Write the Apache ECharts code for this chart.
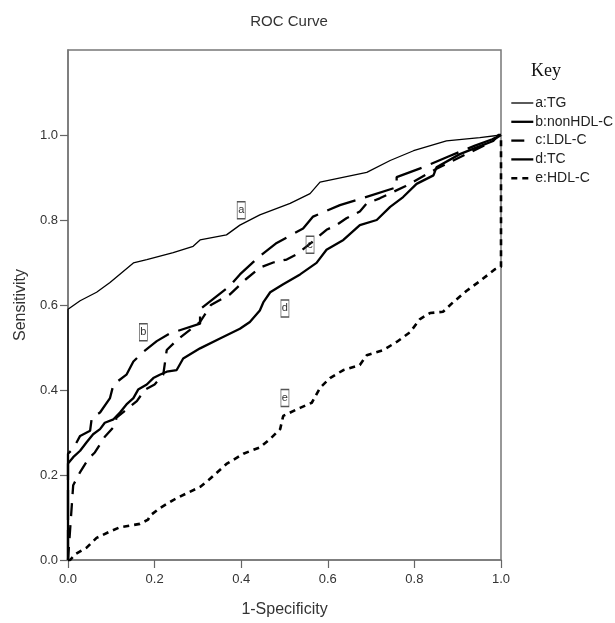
<!DOCTYPE html>
<html>
<head>
<meta charset="utf-8">
<script src="https://cdn.jsdelivr.net/npm/echarts@6/dist/echarts.min.js"></script>
<style>
  html, body { margin: 0; padding: 0; background: #fff; }
  #chart { width: 615px; height: 623px; }
</style>
</head>
<body>
<div id="chart"></div>
<script>
// ROC curves, points as [1-specificity, sensitivity]
const seriesNames = ['a:TG', 'b:nonHDL-C', 'c:LDL-C', 'd:TC', 'e:HDL-C'];
const axisTicks = [0, 0.2, 0.4, 0.6, 0.8, 1.0];

const curveA = [[0,0],[0,0.59],[0.028,0.61],[0.066,0.63],[0.097,0.653],[0.124,0.676],[0.151,0.699],[0.182,0.707],
  [0.243,0.723],[0.289,0.738],[0.305,0.753],[0.366,0.765],[0.397,0.788],[0.443,0.812],[0.513,0.839],[0.559,0.862],
  [0.582,0.889],[0.69,0.912],[0.744,0.94],[0.798,0.963],[0.874,0.986],[0.951,0.994],[1,1]];

const curveB = [[0,0],[0,0.25],[0.012,0.262],[0.028,0.292],[0.051,0.304],[0.055,0.335],[0.074,0.347],[0.097,0.381],
  [0.105,0.413],[0.135,0.436],[0.151,0.467],[0.174,0.49],[0.205,0.515],[0.235,0.533],[0.305,0.556],[0.305,0.59],
  [0.374,0.645],[0.397,0.672],[0.443,0.715],[0.482,0.746],[0.543,0.78],[0.566,0.808],[0.628,0.835],[0.667,0.847],
  [0.759,0.877],[0.759,0.901],[0.82,0.924],[0.88,0.95],[0.94,0.975],[0.98,0.99],[1,1]];

const curveC = [[0,0],[0.012,0.176],[0.028,0.207],[0.047,0.238],[0.062,0.253],[0.085,0.29],[0.108,0.316],[0.112,0.335],
  [0.159,0.374],[0.178,0.401],[0.2,0.413],[0.22,0.436],[0.228,0.494],[0.251,0.517],[0.305,0.56],[0.33,0.6],
  [0.374,0.625],[0.41,0.66],[0.443,0.688],[0.474,0.7],[0.505,0.707],[0.528,0.719],[0.56,0.745],[0.597,0.777],
  [0.62,0.788],[0.643,0.804],[0.674,0.82],[0.69,0.839],[0.72,0.851],[0.78,0.88],[0.85,0.92],[0.92,0.955],
  [0.97,0.98],[1,1]];

const curveD = [[0,0],[0,0.227],[0.012,0.242],[0.028,0.257],[0.043,0.277],[0.058,0.296],[0.074,0.308],[0.085,0.323],
  [0.105,0.331],[0.12,0.347],[0.135,0.366],[0.151,0.381],[0.162,0.401],[0.182,0.413],[0.197,0.428],[0.212,0.436],
  [0.228,0.443],[0.251,0.447],[0.266,0.474],[0.305,0.498],[0.351,0.521],[0.397,0.544],[0.42,0.56],[0.443,0.587],
  [0.451,0.606],[0.467,0.63],[0.497,0.649],[0.536,0.672],[0.574,0.699],[0.597,0.73],[0.636,0.753],[0.674,0.788],
  [0.713,0.8],[0.744,0.831],[0.774,0.854],[0.805,0.885],[0.844,0.905],[0.851,0.924],[0.905,0.955],[0.944,0.971],
  [0.982,0.986],[0.994,1],[1,1]];

const curveE = [[0,0],[0.005,0],[0.016,0.013],[0.043,0.029],[0.066,0.052],[0.097,0.067],[0.12,0.077],[0.166,0.085],
  [0.185,0.095],[0.189,0.104],[0.212,0.122],[0.243,0.141],[0.274,0.157],[0.305,0.172],[0.328,0.191],[0.366,0.226],
  [0.405,0.25],[0.443,0.265],[0.467,0.285],[0.49,0.308],[0.497,0.339],[0.536,0.358],[0.563,0.37],[0.582,0.405],
  [0.605,0.428],[0.636,0.447],[0.674,0.459],[0.69,0.482],[0.728,0.494],[0.759,0.513],[0.79,0.536],[0.813,0.567],
  [0.836,0.581],[0.866,0.584],[0.889,0.606],[0.92,0.633],[0.951,0.656],[0.986,0.684],[1,0.69],[1,1]];

// boxed letters on each curve
const tagLetters = ['a', 'b', 'c', 'd', 'e'];
const tagPoints = [[0.40, 0.823], [0.174, 0.536], [0.559, 0.742], [0.501, 0.592], [0.501, 0.381]];

const curves = [curveA, curveB, curveC, curveD, curveE];
const styles = [
  { width: 1.3, type: 'solid' },
  { width: 2.3, type: [30, 10] },
  { width: 2.3, type: [13, 9] },
  { width: 2.3, type: 'solid' },
  { width: 2.6, type: [6, 5] }
];

const chart = echarts.init(document.getElementById('chart'));

const option = {
  animation: false,
  backgroundColor: '#fff',
  title: {
    text: 'ROC Curve',
    left: 284, top: 9, textAlign: 'center',
    textStyle: { fontFamily: 'Liberation Sans', fontSize: 15, fontWeight: 'normal', color: '#333' }
  },
  legend: {
    orient: 'vertical',
    left: 510, top: 96,
    itemWidth: 22, itemHeight: 10, itemGap: 4.8,
    padding: 0,
    data: seriesNames.map((n, i) => ({ name: n, lineStyle: { width: styles[i].width } })),
    itemStyle: { opacity: 0 },
    textStyle: { fontFamily: 'Liberation Sans', fontSize: 14, color: '#222', padding: [0, 0, 0, -3] }
  },
  graphic: [{
    type: 'text', left: 531, top: 62,
    style: { text: 'Key', font: '18px "Liberation Serif"', fill: '#111' }
  }],
  grid: { left: 68, right: 114, top: 50, bottom: 59, show: true, borderColor: '#777', borderWidth: 1.5 },
  xAxis: {
    type: 'value', min: 0, max: 1, interval: 0.2,
    name: '1-Specificity', nameLocation: 'middle', nameGap: 42,
    nameTextStyle: { fontFamily: 'Liberation Sans', fontSize: 16, color: '#333' },
    axisLine: { lineStyle: { color: '#777', width: 1.5 } },
    axisTick: { inside: false, length: 8, lineStyle: { color: '#666', width: 1.2 } },
    axisLabel: { margin: 13, fontFamily: 'Liberation Sans', fontSize: 13, color: '#333', formatter: v => v.toFixed(1) },
    splitLine: { show: false }
  },
  yAxis: {
    type: 'value', min: 0, max: 1.2, interval: 0.2,
    name: 'Sensitivity', nameLocation: 'middle', nameGap: 37,
    nameTextStyle: { fontFamily: 'Liberation Sans', fontSize: 16, color: '#333' },
    axisLine: { lineStyle: { color: '#777', width: 1.5 } },
    axisTick: { inside: false, length: 8, customValues: axisTicks, lineStyle: { color: '#666', width: 1.2 } },
    axisLabel: { margin: 10, fontFamily: 'Liberation Sans', fontSize: 13, color: '#333', customValues: axisTicks,
      formatter: v => (v > 1.01 ? '' : v.toFixed(1)) },
    splitLine: { show: false }
  },
  series: curves.map((data, i) => ({
    name: seriesNames[i],
    type: 'line',
    data: data,
    symbol: 'none',
    clip: false,
    color: '#000',
    lineStyle: { color: '#000', width: styles[i].width, type: styles[i].type },
    markPoint: {
      symbol: 'rect',
      symbolSize: [8, 17],
      itemStyle: { color: 'rgba(255,255,255,0)', borderColor: '#555', borderWidth: 1 },
      label: { show: true, position: 'inside', fontFamily: 'Liberation Sans', fontSize: 11, color: '#333',
        formatter: tagLetters[i] },
      data: [{ coord: tagPoints[i] }]
    }
  }))
};

chart.setOption(option);
</script>
</body>
</html>
